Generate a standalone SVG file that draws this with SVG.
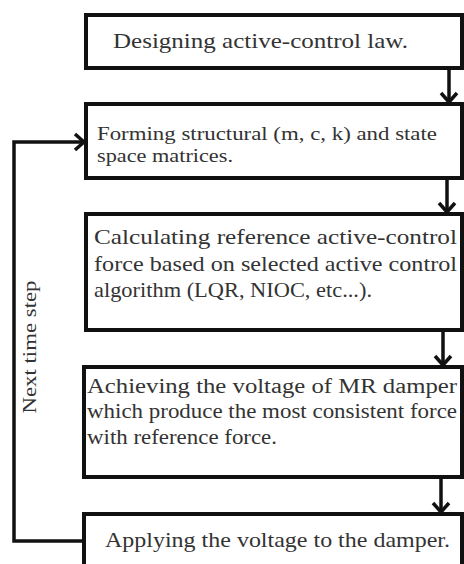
<svg xmlns="http://www.w3.org/2000/svg" width="464" height="564" viewBox="0 0 464 564">
<defs>
<style>
.box{fill:#fff;stroke:#111;stroke-width:4}
.t{font-family:"Liberation Serif","Times New Roman",serif;fill:#333}
.c{fill:none;stroke:#111;stroke-width:3.5}
</style>
<marker id="ah" markerUnits="userSpaceOnUse" markerWidth="20" markerHeight="20" viewBox="0 0 20 20" refX="17" refY="10" orient="auto">
<path d="M8,2 L17,10 L8,18" fill="none" stroke="#111" stroke-width="3.5"/>
</marker>
</defs>
<rect width="464" height="564" fill="#fff"/>
<g id="n1">
<rect class="box" x="86" y="15" width="376" height="53"/>
<text class="t" x="113" y="48" font-size="21" textLength="295" lengthAdjust="spacingAndGlyphs">Designing active-control law.</text>
</g>
<g id="n2">
<rect class="box" x="86" y="104" width="376" height="74"/>
<text class="t" x="97" y="140" font-size="19" textLength="340" lengthAdjust="spacingAndGlyphs">Forming structural (m, c, k) and state</text>
<text class="t" x="97" y="162" font-size="19" textLength="136" lengthAdjust="spacingAndGlyphs">space matrices.</text>
</g>
<g id="n3">
<rect class="box" x="86" y="214" width="376" height="116"/>
<text class="t" x="94" y="244" font-size="21" textLength="363" lengthAdjust="spacingAndGlyphs">Calculating reference active-control</text>
<text class="t" x="94" y="271" font-size="21" textLength="363" lengthAdjust="spacingAndGlyphs">force based on selected active control</text>
<text class="t" x="94" y="297" font-size="21" textLength="278" lengthAdjust="spacingAndGlyphs">algorithm (LQR, NIOC, etc...).</text>
</g>
<g id="n4">
<rect class="box" x="84" y="367" width="378" height="110"/>
<text class="t" x="87" y="393" font-size="20" textLength="370" lengthAdjust="spacingAndGlyphs">Achieving the voltage of MR damper</text>
<text class="t" x="87" y="418" font-size="20" textLength="370" lengthAdjust="spacingAndGlyphs">which produce the most consistent force</text>
<text class="t" x="87" y="444" font-size="20" textLength="190" lengthAdjust="spacingAndGlyphs">with reference force.</text>
</g>
<g id="n5">
<rect class="box" x="84" y="514" width="378" height="52"/>
<text class="t" x="105" y="547" font-size="21" textLength="345" lengthAdjust="spacingAndGlyphs">Applying the voltage to the damper.</text>
</g>
<g id="connectors">
<line class="c" x1="449" y1="68" x2="449" y2="102" marker-end="url(#ah)"/>
<line class="c" x1="447" y1="178" x2="447" y2="212" marker-end="url(#ah)"/>
<line class="c" x1="443" y1="330" x2="443" y2="365" marker-end="url(#ah)"/>
<line class="c" x1="441" y1="477" x2="441" y2="512" marker-end="url(#ah)"/>
<path class="c" d="M84,541 H14 V142 H84" marker-end="url(#ah)"/>
<text class="t" transform="translate(36,347) rotate(-90)" text-anchor="middle" font-size="18" textLength="133" lengthAdjust="spacingAndGlyphs">Next time step</text>
</g>
</svg>
